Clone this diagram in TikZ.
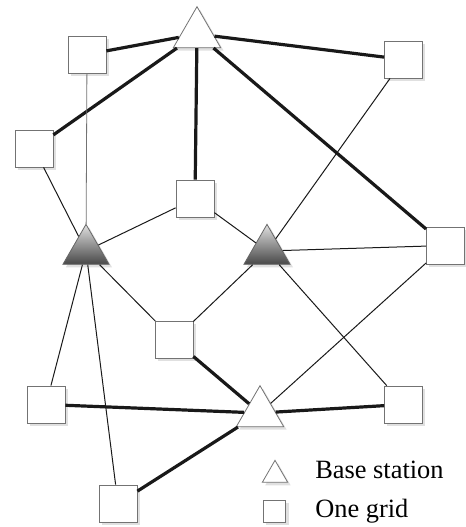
\documentclass[tikz,border=0pt]{standalone}
\usepackage{fontspec}
\setmainfont{Liberation Serif}
\usetikzlibrary{shapes.geometric,shadows}

\tikzset{
  shade/.style={drop shadow={shadow xshift=2.2pt,shadow yshift=-2.2pt,fill=black!12,opacity=1}},
  grid/.style={rectangle,draw=black!55,fill=white,line width=0.6pt,inner sep=0,
    minimum width=28.5pt,minimum height=27.75pt,shade},
  station/.style={regular polygon,regular polygon sides=3,draw=black!55,fill=white,
    line width=0.6pt,inner sep=0,minimum size=41pt,shade},
  hub/.style={regular polygon,regular polygon sides=3,draw=black!60,top color=black!12,
    bottom color=black!72,line width=0.6pt,inner sep=0,minimum size=40pt,shade},
  thickedge/.style={line width=2.4pt,black!90},
  thinedge/.style={line width=0.75pt,black!90},
  label/.style={inner sep=0,anchor=base west,font=\fontsize{19.8}{23}\selectfont}
}

\begin{document}
\begin{tikzpicture}[x=0.75pt,y=-0.75pt]
        \useasboundingbox (0,0) rectangle (465,527);
        % base stations and grids
        \node (bsTop) at (197,34) [station] {};
        \node (bsBot) at (260,413) [station] {};
        \node (hubL) at (86,251) [hub] {};
        \node (hubR) at (267,251) [hub] {};
        \node (g1) at (87,54.5) [grid] {};
        \node (g2) at (403.5,59.5) [grid] {};
        \node (g3) at (34,148.5) [grid] {};
        \node (g4) at (195,198.5) [grid] {};
        \node (g5) at (445.5,245.5) [grid] {};
        \node (g6) at (174,340) [grid] {};
        \node (g7) at (46,404.5) [grid] {};
        \node (g8) at (403.5,404.5) [grid] {};
        \node (g9) at (118,503.5) [grid] {};
        % thick links
        \draw [thickedge] (bsTop) -- (g1);
        \draw [thickedge] (bsTop) -- (g2);
        \draw [thickedge] (bsTop) -- (g3);
        \draw [thickedge] (bsTop) -- (g4);
        \draw [thickedge] (bsTop) -- (g5);
        \draw [thickedge] (bsBot) -- (g6);
        \draw [thickedge] (bsBot) -- (g7);
        \draw [thickedge] (bsBot) -- (g8);
        \draw [thickedge] (bsBot) -- (g9);
        % thin links
        \draw [line width=0.6pt,black!55] (g1) -- (hubL);
        \draw [thinedge] (g3) -- (hubL);
        \draw [thinedge] (g4) -- (hubL);
        \draw [thinedge] (g6) -- (hubL);
        \draw [thinedge] (g7) -- (hubL);
        \draw [thinedge] (g9) -- (hubL);
        \draw [thinedge] (g4) -- (hubR);
        \draw [thinedge] (g2) -- (hubR);
        \draw [thinedge] (g5) -- (hubR);
        \draw [thinedge] (g6) -- (hubR);
        \draw [thinedge] (g8) -- (hubR);
        \draw [thinedge] (g5) -- (bsBot);
        % legend
        \node (keyStation) at (275,475) [station,minimum size=22pt,drop shadow={opacity=0}] {};
        \node (keyGrid) at (274.5,511) [grid,minimum width=17pt,minimum height=16.5pt,drop shadow={opacity=0}] {};
        \node (leg1) at (315,478) [label] {Base station};
        \node (leg2) at (315,517) [label] {One grid};
\end{tikzpicture}
\end{document}
